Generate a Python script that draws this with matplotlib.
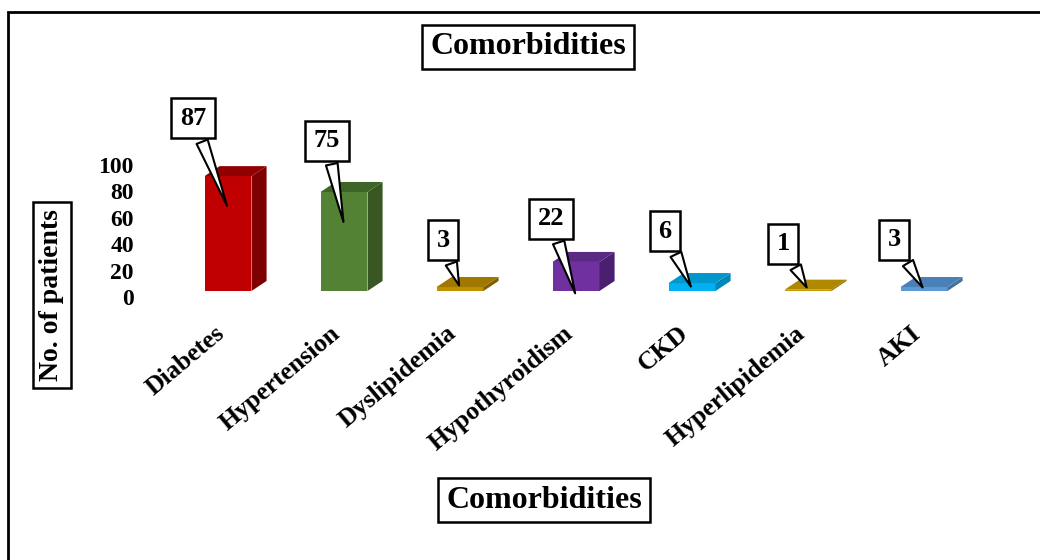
import matplotlib.pyplot as plt
import matplotlib.transforms as mtransforms
from matplotlib.patches import Polygon, Rectangle

# Comorbidity counts
categories = ['Diabetes', 'Hypertension', 'Dyslipidemia', 'Hypothyroidism',
              'CKD', 'Hyperlipidemia', 'AKI']
patients = [87, 75, 3, 22, 6, 1, 3]
y_ticks = [0, 20, 40, 60, 80, 100]

# front / side / top shades for each bar
front_colors = ['#C00000', '#548235', '#BF9000', '#7030A0', '#00B0F0', '#C89A00', '#5B9BD5']
side_colors = ['#7F0000', '#385723', '#7F6000', '#4B1F6F', '#0088BB', '#8C6B00', '#41719C']
top_colors = ['#900000', '#3F6428', '#A07800', '#5A2A85', '#0098CC', '#B08800', '#4A80B8']

# where each callout points, as a fraction of its bar, and the box offset in pixels
tip_frac = [0.72, 0.67, 0.75, -0.17, 0.25, 0.8, 0.3]
box_offset = [(-35, 90), (-17, 84), (-17, 48), (-25, 77), (-27, 58), (-25, 46), (-30, 50)]

plt.rcParams['font.family'] = ['Liberation Serif', 'DejaVu Serif']
plt.rcParams['font.weight'] = 'bold'

fig = plt.figure(figsize=(10.4, 5.6), dpi=100)
ax = fig.add_axes([145 / 1040, 1 - 291 / 560, 865 / 1040, 231 / 560])
ax.set_xlim(-0.7155, 6.741)
ax.set_ylim(0, 175)

width = 0.405
dx = 0.13
dy = 7.6
x = list(range(len(categories)))

bars = ax.bar(x, patients, width=width, color=front_colors, zorder=2)
for i, b in enumerate(bars):
    x0 = b.get_x()
    x1 = x0 + b.get_width()
    h = b.get_height()
    side = Polygon([(x1, 0), (x1 + dx, dy), (x1 + dx, h + dy), (x1, h)],
                   closed=True, fc=side_colors[i], ec='none', zorder=2)
    top = Polygon([(x0, h), (x1, h), (x1 + dx, h + dy), (x0 + dx, h + dy)],
                  closed=True, fc=top_colors[i], ec='none', zorder=2)
    ax.add_patch(side)
    ax.add_patch(top)

# callout labels
for i, v in enumerate(patients):
    ax.annotate(str(v), xy=(i, v * tip_frac[i]), xytext=box_offset[i],
                textcoords='offset pixels', ha='center', va='center',
                fontsize=19, fontweight='bold', zorder=5,
                bbox=dict(boxstyle='square,pad=0.32', fc='white', ec='black', lw=1.8),
                arrowprops=dict(arrowstyle='wedge,tail_width=0.45,shrink_factor=0.5',
                                fc='white', ec='black', lw=1.5),
                annotation_clip=False)

for s in ax.spines.values():
    s.set_visible(False)
ax.set_yticks(y_ticks)
ax.set_yticklabels([str(t) for t in y_ticks], fontsize=17, fontweight='bold')
ax.tick_params(axis='y', length=0, pad=8)
shift = mtransforms.ScaledTranslation(0, -6 / 100, fig.dpi_scale_trans)
for lbl in ax.get_yticklabels():
    lbl.set_transform(lbl.get_transform() + shift)

ax.set_xticks(x)
ax.set_xticklabels(categories, rotation=40, ha='right', va='top',
                   rotation_mode='anchor', fontsize=18.5, fontweight='bold')
ax.tick_params(axis='x', length=0, pad=22)
xshift = mtransforms.ScaledTranslation(-14 / 100, 0, fig.dpi_scale_trans)
for lbl in ax.get_xticklabels():
    lbl.set_transform(lbl.get_transform() + xshift)

box = dict(boxstyle='square,pad=0.25', fc='white', ec='black', lw=1.8)
fig.text(528 / 1040, 1 - 47 / 560, 'Comorbidities', ha='center', va='center',
         fontsize=23, fontweight='bold', bbox=box)
fig.text(544 / 1040, 1 - 500 / 560, 'Comorbidities', ha='center', va='center',
         fontsize=23, fontweight='bold', bbox=box)
fig.text(52 / 1040, 1 - 295 / 560, 'No. of patients', ha='center', va='center',
         rotation=90, fontsize=20, fontweight='bold', bbox=box)

# outer frame (runs off the right and bottom edges)
fig.add_artist(Rectangle((8 / 1040, -0.2), 1.2, 1.2 - 12 / 560,
                         transform=fig.transFigure, fill=False, ec='black', lw=2))

fig.savefig('out.png', dpi=100)
